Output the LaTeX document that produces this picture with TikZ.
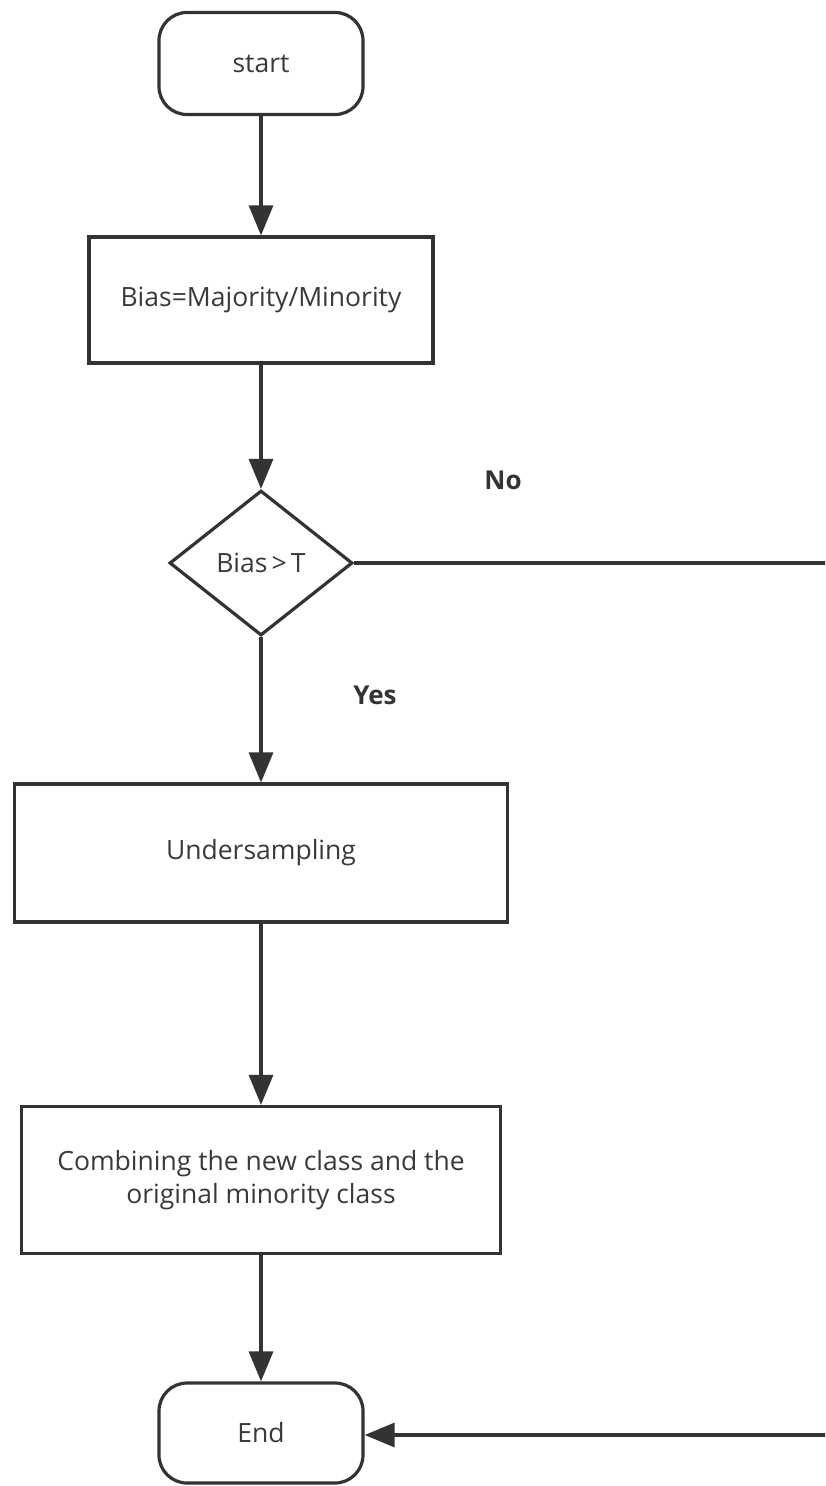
\documentclass[tikz,border=0pt]{standalone}
\usepackage{fontspec}
\setmainfont{Open Sans}
\usetikzlibrary{shapes.geometric,arrows.meta}
\definecolor{ink}{HTML}{333333}
\definecolor{txt}{HTML}{3A3A3A}
\begin{document}
\begin{tikzpicture}[x=1pt,y=-1pt,
  base/.style={draw=ink,line width=3.2pt,fill=white,text=txt,font=\fontsize{26.5}{33}\selectfont,inner sep=0pt,align=center},
  term/.style={base,rectangle,rounded corners=28pt,minimum width=204pt,minimum height=102pt},
  proc/.style={base,rectangle},
  dec/.style={base,diamond,minimum width=183pt,minimum height=145pt},
  conn/.style={draw=ink,line width=3.2pt,-{Triangle[length=30pt,width=24pt]}},
  lab/.style={text=ink,font=\bfseries\fontsize{26}{30}\selectfont,inner sep=0pt}]
\useasboundingbox (0,0) rectangle (825,1486);
\clip (0,0) rectangle (825,1486);
\fill[white] (0,0) rectangle (825,1486);
\node[term] (s) at (261,63.5) {start};
\node[proc,minimum width=344pt,minimum height=126pt] (b) at (261,300) {Bias=Majority/Minority};
\node[dec] (d) at (261,563) {Bias$\,$>$\,$T};
\node[proc,minimum width=493pt,minimum height=138pt] (u) at (261,853) {Undersampling};
\node[proc,minimum width=479pt,minimum height=147pt] (c) at (261,1180) {Combining the new class and the\\original minority class};
\node[term,minimum height=100pt] (e) at (261,1433) {End};
\coordinate (r1) at (832,563);
\coordinate (r2) at (832,1435);
\node[lab] (no) at (503,480) {No};
\node[lab] (yes) at (375,695) {Yes};
\draw[conn] (s) -- (b);
\draw[conn] (b) -- (d);
\draw[conn] (d) -- (u);
\draw[conn] (u) -- (c);
\draw[conn] (c) -- (e);
\draw[conn] (d.east) -- (r1) -- (r2) -- (e.east |- r2);
\end{tikzpicture}
\end{document}
